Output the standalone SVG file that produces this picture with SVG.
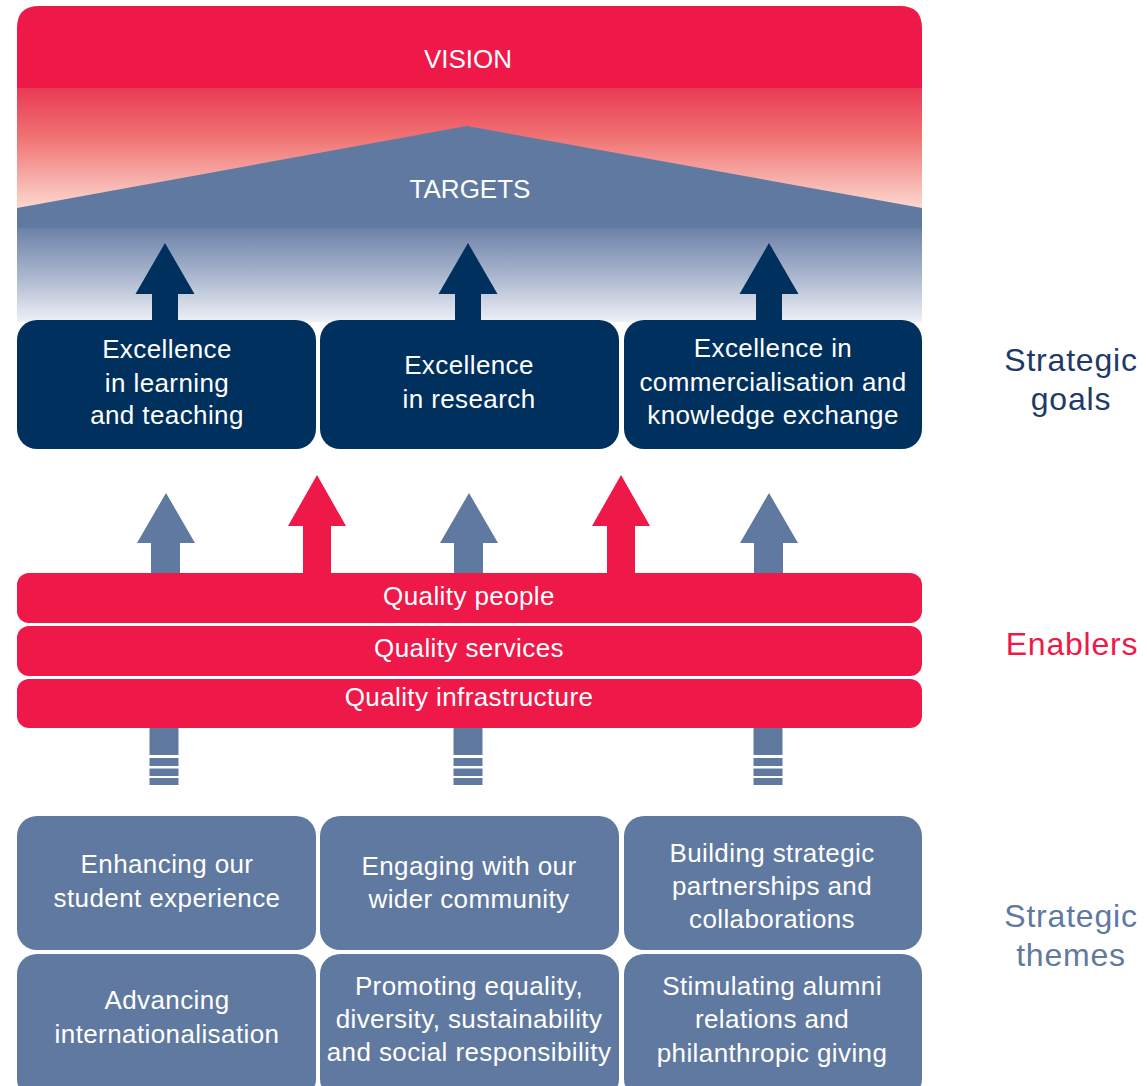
<svg xmlns="http://www.w3.org/2000/svg" width="1147" height="1086" viewBox="0 0 1147 1086">
<style>
  .t { font-family: "Liberation Sans", Arial, sans-serif; fill: #ffffff; text-anchor: middle; }
  .h { font-size: 26px; }
  .b { font-size: 26px; letter-spacing: 0.4px; }
  .goal { fill: #00305e; }
  .theme { fill: #6079a0; }
  .bar { fill: #ee1849; }
  .lbl { font-family: "Liberation Sans", Arial, sans-serif; font-size: 32px; text-anchor: middle; letter-spacing: 0.8px; }
  .navy { fill: #00305e; }
  .blue { fill: #6079a0; }
  .red { fill: #ee1849; }
</style>
<defs>
  <linearGradient id="gRed" x1="0" y1="0" x2="0" y2="1">
    <stop offset="0" stop-color="#ea3a55"/>
    <stop offset="0.4" stop-color="#f07172"/>
    <stop offset="1" stop-color="#fcd9d0"/>
  </linearGradient>
  <linearGradient id="gBlue" x1="0" y1="0" x2="0" y2="1">
    <stop offset="0" stop-color="#6c81a9"/>
    <stop offset="0.5" stop-color="#a9b5cd"/>
    <stop offset="1" stop-color="#eef0f6"/>
  </linearGradient>
  <clipPath id="topClip">
    <path d="M17,28 Q17,6 39,6 L900,6 Q922,6 922,28 L922,322 L17,322 Z"/>
  </clipPath>
</defs>
<rect width="1147" height="1086" fill="#ffffff"/>

<g id="vision-targets" clip-path="url(#topClip)">
  <rect x="17" y="6" width="905" height="83" fill="#ee1849"/>
  <rect x="17" y="88" width="905" height="121" fill="url(#gRed)"/>
  <polygon points="17,208 467,126 922,208 922,229 17,229" fill="#6079a0"/>
  <rect x="17" y="228" width="905" height="94" fill="url(#gBlue)"/>
  <text class="t h" x="468" y="68">VISION</text>
  <text class="t h" x="470" y="198">TARGETS</text>
</g>

<g id="connectors">
  <!-- navy arrows to targets -->
  <polygon class="navy" points="165,243 194.5,294 178,294 178,322 152,322 152,294 135.5,294"/>
  <polygon class="navy" points="468,243 497.5,294 481,294 481,322 455,322 455,294 438.5,294"/>
  <polygon class="navy" points="769,243 798.5,294 782,294 782,322 756,322 756,294 739.5,294"/>
  <!-- enabler arrows -->
  <polygon class="blue" points="166,493 195,543 180,543 180,574 151,574 151,543 137,543"/>
  <polygon class="red" points="317,475 346,526 331,526 331,574 303,574 303,526 288,526"/>
  <polygon class="blue" points="469,493 498,543 483,543 483,574 454,574 454,543 440,543"/>
  <polygon class="red" points="621,475 650,526 635,526 635,574 607,574 607,526 592,526"/>
  <polygon class="blue" points="769,493 798,543 783,543 783,574 754,574 754,543 740,543"/>
  <!-- striped shafts from themes -->
  <g class="blue">
    <rect x="149.5" y="728" width="29" height="27"/>
    <rect x="149.5" y="758" width="29" height="8"/>
    <rect x="149.5" y="768.5" width="29" height="7.5"/>
    <rect x="149.5" y="778" width="29" height="7"/>
    <rect x="453.5" y="728" width="29" height="27"/>
    <rect x="453.5" y="758" width="29" height="8"/>
    <rect x="453.5" y="768.5" width="29" height="7.5"/>
    <rect x="453.5" y="778" width="29" height="7"/>
    <rect x="753.5" y="728" width="29" height="27"/>
    <rect x="753.5" y="758" width="29" height="8"/>
    <rect x="753.5" y="768.5" width="29" height="7.5"/>
    <rect x="753.5" y="778" width="29" height="7"/>
  </g>
</g>

<g id="goal-learning">
  <rect class="goal" x="17" y="320" width="299" height="129" rx="20"/>
  <text class="t b" x="167" y="358">Excellence</text>
  <text class="t b" x="167" y="392">in learning</text>
  <text class="t b" x="167" y="424">and teaching</text>
</g>
<g id="goal-research">
  <rect class="goal" x="320" y="320" width="299" height="129" rx="20"/>
  <text class="t b" x="469" y="374">Excellence</text>
  <text class="t b" x="469" y="408">in research</text>
</g>
<g id="goal-commercialisation">
  <rect class="goal" x="624" y="320" width="298" height="129" rx="20"/>
  <text class="t b" x="773" y="357">Excellence in</text>
  <text class="t b" x="773" y="391">commercialisation and</text>
  <text class="t b" x="773" y="424">knowledge exchange</text>
</g>

<g id="enabler-people">
  <rect class="bar" x="17" y="573" width="905" height="50" rx="12"/>
  <text class="t b" x="469" y="605">Quality people</text>
</g>
<g id="enabler-services">
  <rect class="bar" x="17" y="626" width="905" height="50" rx="12"/>
  <text class="t b" x="469" y="657">Quality services</text>
</g>
<g id="enabler-infrastructure">
  <rect class="bar" x="17" y="679" width="905" height="49" rx="12"/>
  <text class="t b" x="469" y="706">Quality infrastructure</text>
</g>

<g id="theme-student">
  <rect class="theme" x="17" y="816" width="299" height="134" rx="20"/>
  <text class="t b" x="167" y="873">Enhancing our</text>
  <text class="t b" x="167" y="907">student experience</text>
</g>
<g id="theme-community">
  <rect class="theme" x="320" y="816" width="299" height="134" rx="20"/>
  <text class="t b" x="469" y="875">Engaging with our</text>
  <text class="t b" x="469" y="908">wider community</text>
</g>
<g id="theme-partnerships">
  <rect class="theme" x="624" y="816" width="298" height="134" rx="20"/>
  <text class="t b" x="772" y="862">Building strategic</text>
  <text class="t b" x="772" y="895">partnerships and</text>
  <text class="t b" x="772" y="928">collaborations</text>
</g>
<g id="theme-international">
  <rect class="theme" x="17" y="954" width="299" height="145" rx="20"/>
  <text class="t b" x="167" y="1009">Advancing</text>
  <text class="t b" x="167" y="1043">internationalisation</text>
</g>
<g id="theme-equality">
  <rect class="theme" x="320" y="954" width="299" height="145" rx="20"/>
  <text class="t b" x="469" y="995">Promoting equality,</text>
  <text class="t b" x="469" y="1028">diversity, sustainability</text>
  <text class="t b" x="469" y="1061">and social responsibility</text>
</g>
<g id="theme-alumni">
  <rect class="theme" x="624" y="954" width="298" height="145" rx="20"/>
  <text class="t b" x="772" y="995">Stimulating alumni</text>
  <text class="t b" x="772" y="1028">relations and</text>
  <text class="t b" x="772" y="1062">philanthropic giving</text>
</g>

<g id="label-goals">
  <text class="lbl" x="1071" y="371" fill="#1f3a68">Strategic</text>
  <text class="lbl" x="1071" y="410" fill="#1f3a68">goals</text>
</g>
<g id="label-enablers">
  <text class="lbl" x="1072" y="655" fill="#ee1849">Enablers</text>
</g>
<g id="label-themes">
  <text class="lbl" x="1071" y="927" fill="#6079a0">Strategic</text>
  <text class="lbl" x="1071" y="966" fill="#6079a0">themes</text>
</g>
</svg>
